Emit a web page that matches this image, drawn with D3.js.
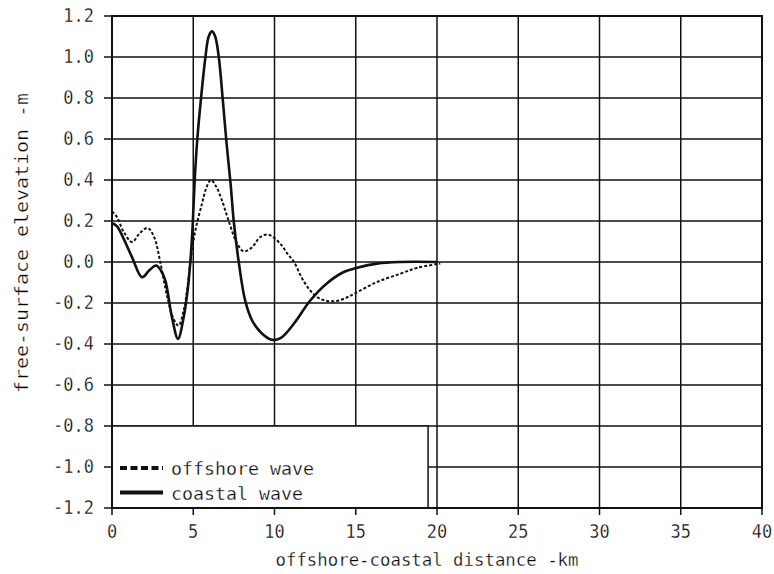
<!DOCTYPE html>
<html>
<head>
<meta charset="utf-8">
<script src="https://cdn.jsdelivr.net/npm/d3@7"></script>
<style>
  html, body { margin: 0; padding: 0; background: #fff; }
  text {
    font-family: "DejaVu Sans Mono", "Liberation Mono", monospace;
    fill: #000;
    stroke: #fff; stroke-width: 0.3px; paint-order: fill;
  }
</style>
</head>
<body>
<div id="chart"></div>
<script>
// values: [distance km, elevation m]
const coastalWave = [
  [0, 0.19], [0.3, 0.175], [0.62, 0.13], [1.23, 0.024], [1.85, -0.074], [2.3, -0.04],
  [2.71, -0.017], [3.0, -0.04], [3.28, -0.09], [3.69, -0.27], [4.06, -0.375],
  [4.41, -0.27], [4.68, -0.12], [4.82, 0.0], [4.96, 0.17], [5.09, 0.4], [5.25, 0.6],
  [5.48, 0.8], [5.75, 1.0], [5.95, 1.10], [6.15, 1.125], [6.35, 1.10], [6.57, 1.0],
  [6.83, 0.78], [7.05, 0.58], [7.3, 0.38], [7.49, 0.2], [7.8, 0.0], [8.2, -0.19],
  [8.65, -0.29], [9.24, -0.35], [9.85, -0.38], [10.4, -0.37], [11.2, -0.30],
  [12.2, -0.188], [13.2, -0.106], [14.26, -0.049], [15.1, -0.028], [16.3, -0.008],
  [17.7, 0], [20, 0]
];
const offshoreWave = [
  [0, 0.247], [0.3, 0.22], [0.7, 0.15], [1.23, 0.097], [1.7, 0.14], [2.2, 0.166],
  [2.6, 0.12], [2.97, 0.0], [3.4, -0.17], [3.8, -0.28], [4.1, -0.31], [4.4, -0.24],
  [4.62, -0.139], [4.82, 0.0], [5.13, 0.154], [5.54, 0.285], [5.8, 0.36], [6.08, 0.40],
  [6.4, 0.37], [6.77, 0.30], [7.18, 0.2], [7.7, 0.09], [8.1, 0.052], [8.6, 0.07],
  [9.13, 0.122], [9.64, 0.133], [10.36, 0.089], [10.8, 0.04], [11.2, 0.0],
  [11.7, -0.08], [12.2, -0.139], [12.7, -0.175], [13.24, -0.19], [13.85, -0.19],
  [14.4, -0.175], [14.9, -0.155], [16.3, -0.098], [17.75, -0.057], [18.8, -0.028],
  [20.2, -0.008]
];
const xTicks = [0, 5, 10, 15, 20, 25, 30, 35, 40];
const yTicks = [-1.2, -1.0, -0.8, -0.6, -0.4, -0.2, 0.0, 0.2, 0.4, 0.6, 0.8, 1.0, 1.2];
const legendItems = ["offshore wave", "coastal wave"];

const width = 774, height = 574;
const plotLeft = 112, plotRight = 762, plotTop = 16, plotBottom = 508;

const svg = d3.select("#chart").append("svg")
  .attr("width", width)
  .attr("height", height);

const x = d3.scaleLinear().domain([0, 40]).range([plotLeft, plotRight]);
const y = d3.scaleLinear().domain([-1.2, 1.2]).range([plotBottom, plotTop]);
const fmt = d => d3.format(".1f")(d).replace("\u2212", "-");

// grid (horizontal lines stick out as ticks on the left)
const grid = svg.append("g").attr("stroke", "#111").attr("stroke-width", 1.5);
grid.selectAll("line.h").data(yTicks).join("line")
  .attr("x1", plotLeft - 8).attr("x2", plotRight)
  .attr("y1", d => y(d)).attr("y2", d => y(d));
grid.selectAll("line.v").data(xTicks).join("line")
  .attr("x1", d => x(d)).attr("x2", d => x(d))
  .attr("y1", plotTop).attr("y2", plotBottom + 7);

// curves
const line = d3.line().x(d => x(d[0])).y(d => y(d[1])).curve(d3.curveCatmullRom.alpha(0.5));
svg.append("path").datum(offshoreWave)
  .attr("fill", "none").attr("stroke", "#111").attr("stroke-width", 2)
  .attr("stroke-dasharray", "3,2").attr("d", line);
svg.append("path").datum(coastalWave)
  .attr("fill", "none").attr("stroke", "#111").attr("stroke-width", 2.6)
  .attr("d", line);

// legend box hides the lower-left grid
const legendRight = x(19.45);
svg.append("rect")
  .attr("x", plotLeft).attr("y", y(-0.8))
  .attr("width", legendRight - plotLeft).attr("height", plotBottom - y(-0.8))
  .attr("fill", "#fff").attr("stroke", "#111").attr("stroke-width", 1.5);

const legend = svg.append("g");
legendItems.forEach((name, i) => {
  const ly = 468 + i * 24.5;
  legend.append("line")
    .attr("x1", 120).attr("x2", 163).attr("y1", ly).attr("y2", ly)
    .attr("stroke", "#111").attr("stroke-width", 4)
    .attr("stroke-dasharray", i === 0 ? "7,3.5" : null);
  legend.append("text")
    .attr("x", 171).attr("y", ly + 7)
    .attr("font-size", 18)
    .attr("textLength", name.length * 11).attr("lengthAdjust", "spacingAndGlyphs")
    .text(name);
});

// frame
svg.append("rect")
  .attr("x", plotLeft).attr("y", plotTop)
  .attr("width", plotRight - plotLeft).attr("height", plotBottom - plotTop)
  .attr("fill", "none").attr("stroke", "#111").attr("stroke-width", 2);

// tick labels (a little stretched vertically, like the plotter digits)
svg.append("g").selectAll("text").data(xTicks).join("text")
  .attr("x", d => x(d)).attr("y", 538 / 1.15)
  .attr("text-anchor", "middle").attr("font-size", 17)
  .attr("transform", "scale(1,1.15)")
  .text(d => String(d));
svg.append("g").selectAll("text").data(yTicks).join("text")
  .attr("x", 94).attr("y", d => (y(d) + 6.5) / 1.15)
  .attr("text-anchor", "end").attr("font-size", 17)
  .attr("transform", "scale(1,1.15)")
  .text(fmt);

// axis titles
svg.append("text")
  .attr("x", 427).attr("y", 566)
  .attr("text-anchor", "middle").attr("font-size", 17)
  .attr("textLength", 303).attr("lengthAdjust", "spacingAndGlyphs")
  .text("offshore-coastal distance -km");
svg.append("text")
  .attr("transform", "translate(28,243) rotate(-90)")
  .attr("text-anchor", "middle").attr("font-size", 18)
  .attr("textLength", 300).attr("lengthAdjust", "spacingAndGlyphs")
  .text("free-surface elevation -m");
</script>
</body>
</html>
